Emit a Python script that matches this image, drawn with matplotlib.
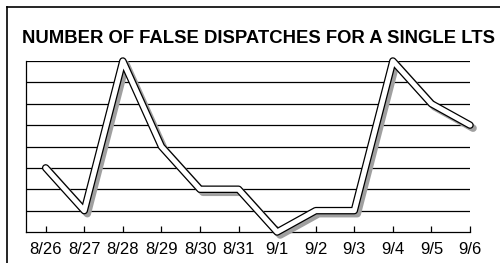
import numpy as np
import matplotlib
matplotlib.use('Agg')
import matplotlib.pyplot as plt
import matplotlib.patheffects as pe
from matplotlib.lines import Line2D

dates = ['8/26', '8/27', '8/28', '8/29', '8/30', '8/31', '9/1', '9/2', '9/3', '9/4', '9/5', '9/6']
false_dispatches = [3, 1, 8, 4, 2, 2, 0, 1, 1, 8, 6, 5]
title = 'NUMBER OF FALSE DISPATCHES FOR A SINGLE LTS'

plt.rcParams['font.family'] = ['Liberation Sans', 'DejaVu Sans']

fig = plt.figure(figsize=(5, 2.63), dpi=100)
ax = fig.add_axes([26/500, 1-232/263, (470-26)/500, (232-61)/263])

x = np.arange(len(dates))
ax.plot(x, false_dispatches, color='white', lw=3.6, clip_on=False, zorder=5,
        solid_joinstyle='round', solid_capstyle='round',
        path_effects=[pe.SimpleLineShadow(offset=(2.2, -2.2), shadow_color='#a0a0a0', alpha=1, linewidth=5.4),
                      pe.Stroke(linewidth=5.4, foreground='black'),
                      pe.Normal()])

for yv in range(1, 9):
    ax.axhline(yv, color='black', lw=0.9, zorder=1)

ax.set_xlim(-0.51, 11)
ax.set_ylim(0, 8)
ax.set_yticks([])
ax.set_xticks(x)
ax.set_xticklabels(dates, fontsize=12)
ax.tick_params(axis='x', direction='in', length=4, width=0.9, pad=7)
ax.spines['top'].set_visible(False)
ax.spines['right'].set_visible(False)
for s in ['left', 'bottom']:
    ax.spines[s].set_linewidth(0.9)

t = fig.text(22/500, 1-43/263, title, fontsize=15, fontweight='bold', va='baseline', ha='left')
# shrink the title so it spans the same width as in the original
r = fig.canvas.get_renderer()
w = t.get_window_extent(r).width
t.set_fontsize(15 * 473 / w)

# frame around the graphic (only top and left visible)
fig.add_artist(Line2D([7/500, 1], [1-7/263, 1-7/263], color='black', lw=1.2, transform=fig.transFigure))
fig.add_artist(Line2D([7/500, 7/500], [0, 1-7/263], color='black', lw=1.2, transform=fig.transFigure))

fig.savefig('out.png', dpi=100)
